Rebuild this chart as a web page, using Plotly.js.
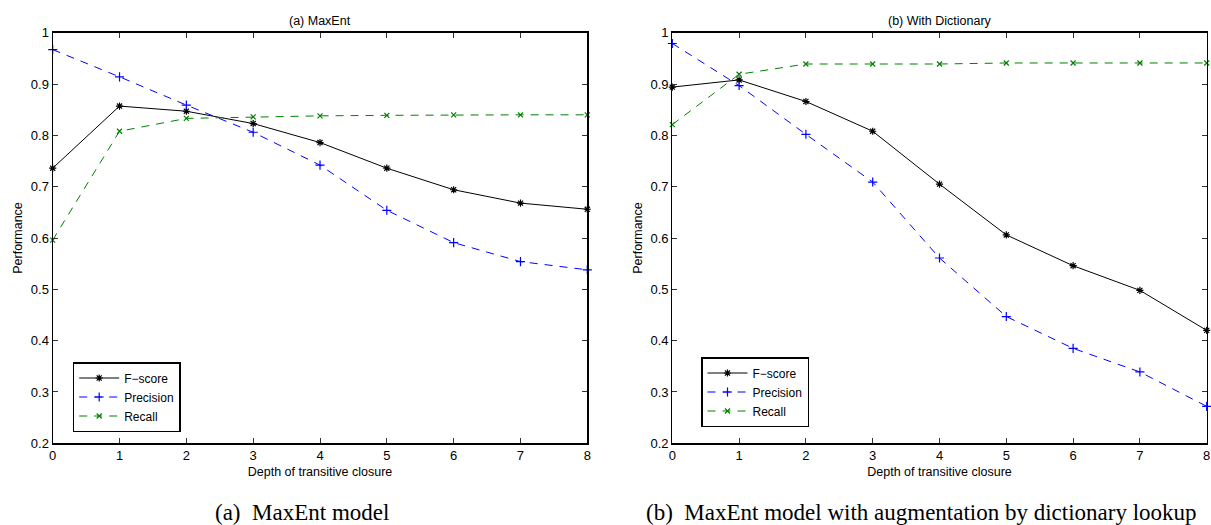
<!DOCTYPE html>
<html>
<head>
<meta charset="utf-8">
<script src="https://cdn.plot.ly/plotly-3.0.1.min.js"></script>
<style>
html,body{margin:0;padding:0;background:#fff;}
#chart{width:1211px;height:525px;}
</style>
</head>
<body>
<div id="chart"></div>
<script>
// ---- data ----
const depth = [0, 1, 2, 3, 4, 5, 6, 7, 8];

// (a) MaxEnt
const maxentF = [0.736, 0.857, 0.847, 0.823, 0.786, 0.736, 0.694, 0.668, 0.656];
const maxentP = [0.967, 0.914, 0.859, 0.806, 0.742, 0.654, 0.591, 0.554, 0.538];
const maxentR = [0.596, 0.808, 0.833, 0.836, 0.838, 0.839, 0.840, 0.840, 0.840];

// (b) With Dictionary
const dictF = [0.894, 0.908, 0.866, 0.808, 0.705, 0.606, 0.546, 0.498, 0.420];
const dictP = [0.979, 0.897, 0.802, 0.709, 0.561, 0.447, 0.385, 0.339, 0.272];
const dictR = [0.821, 0.919, 0.939, 0.939, 0.939, 0.941, 0.941, 0.941, 0.941];

const seriesNames = ['F\u2212score', 'Precision', 'Recall'];
const panelTitles = ['(a) MaxEnt', '(b) With Dictionary'];
const captions = ['(a)  MaxEnt model', '(b)  MaxEnt model with augmentation by dictionary lookup'];
const xTitle = 'Depth of transitive closure';
const yTitle = 'Performance';

// ---- styles ----
const sans = 'Liberation Sans, Arial, Helvetica, sans-serif';
const serif = 'Liberation Serif, Times New Roman, serif';
const styles = [
  {color: 'black', dash: 'solid', symbol: 'asterisk-open', size: 6},
  {color: 'rgb(0,0,255)', dash: '8px,7px', symbol: 'cross-thin-open', size: 6.5},
  {color: 'rgb(0,128,0)', dash: '8px,7px', symbol: 'x-thin-open', size: 5}
];

function mk(y, i, xa, ya, lg) {
  const s = styles[i];
  return {
    x: depth, y: y, type: 'scatter', mode: 'lines+markers',
    name: seriesNames[i], xaxis: xa, yaxis: ya, legend: lg,
    cliponaxis: false,
    line: {color: s.color, width: 1, dash: s.dash},
    marker: {symbol: s.symbol, size: s.size, color: s.color, line: {color: s.color, width: 1.2}}
  };
}

const traces = [
  mk(maxentF, 0, 'x', 'y', 'legend'),
  mk(maxentP, 1, 'x', 'y', 'legend'),
  mk(maxentR, 2, 'x', 'y', 'legend'),
  mk(dictF, 0, 'x2', 'y2', 'legend2'),
  mk(dictP, 1, 'x2', 'y2', 'legend2'),
  mk(dictR, 2, 'x2', 'y2', 'legend2')
];

const W = 1211, H = 525;
const yDom = [1 - 443.3 / H, 1 - 32.7 / H];
const tickFont = {family: sans, size: 13, color: 'black'};
const labFont = {family: sans, size: 12.5, color: 'black'};

function xax(dom) {
  return {
    domain: dom, range: [0, 8], dtick: 1, tick0: 0,
    showgrid: false, zeroline: false,
    showline: true, linecolor: 'black', linewidth: 1.2, mirror: 'ticks',
    ticks: 'inside', ticklen: 5, tickwidth: 1, tickcolor: '#333',
    tickfont: tickFont,
    title: {text: xTitle, font: labFont, standoff: 5},
    automargin: false, fixedrange: true
  };
}
function yax(dom, anchor) {
  return {
    domain: dom, range: [0.2, 1], dtick: 0.1, tick0: 0.2, anchor: anchor,
    showgrid: false, zeroline: false,
    showline: true, linecolor: 'black', linewidth: 1.2, mirror: 'ticks',
    ticks: 'inside', ticklen: 5, tickwidth: 1, tickcolor: '#333',
    tickfont: tickFont,
    title: {text: yTitle, font: labFont, standoff: 5},
    automargin: false, fixedrange: true
  };
}

function legendCfg(x, y) {
  return {
    x: x, y: y, xanchor: 'left', yanchor: 'top', xref: 'paper', yref: 'paper',
    bgcolor: 'white', bordercolor: 'black', borderwidth: 1.5,
    font: {family: sans, size: 12, color: 'black'},
    itemwidth: 40,
    tracegroupgap: 0, itemclick: false, itemdoubleclick: false
  };
}

const layout = {
  width: W, height: H,
  margin: {l: 0, r: 0, t: 0, b: 0},
  paper_bgcolor: 'white', plot_bgcolor: 'white',
  showlegend: true,
  xaxis: Object.assign(xax([52.7 / W, 587.3 / W]), {anchor: 'y'}),
  yaxis: yax(yDom, 'x'),
  xaxis2: Object.assign(xax([672.3 / W, 1206.7 / W]), {anchor: 'y2'}),
  yaxis2: yax(yDom, 'x2'),
  legend: legendCfg(72.7 / W, 1 - 362 / H),
  legend2: legendCfg(701 / W, 1 - 357 / H),
  annotations: [
    {text: panelTitles[0], x: 320 / W, y: 1 - 20.7 / H, xref: 'paper', yref: 'paper',
     showarrow: false, xanchor: 'center', yanchor: 'middle', font: labFont},
    {text: panelTitles[1], x: 939.5 / W, y: 1 - 20.7 / H, xref: 'paper', yref: 'paper',
     showarrow: false, xanchor: 'center', yanchor: 'middle', font: labFont},
    {text: captions[0], x: 302 / W, y: 1 - 512 / H, xref: 'paper', yref: 'paper',
     showarrow: false, xanchor: 'center', yanchor: 'middle', font: {family: serif, size: 23, color: 'black'}},
    {text: captions[1], x: 921 / W, y: 1 - 512 / H, xref: 'paper', yref: 'paper',
     showarrow: false, xanchor: 'center', yanchor: 'middle', font: {family: serif, size: 23, color: 'black'}}
  ]
};

Plotly.newPlot('chart', traces, layout, {staticPlot: true, displayModeBar: false});
</script>
</body>
</html>
